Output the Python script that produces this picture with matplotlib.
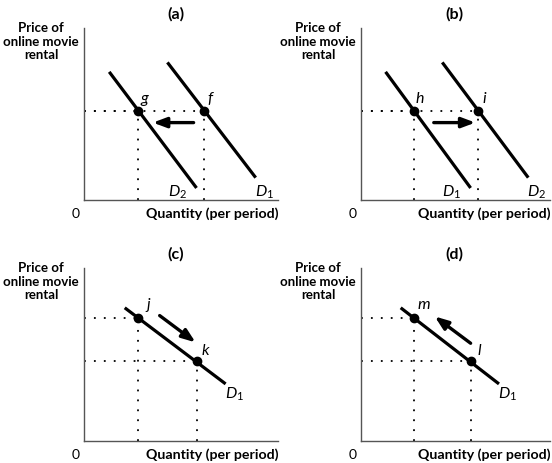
import numpy as np
import matplotlib.pyplot as plt

# ─── Data (axis units 0..10) ────────────────────────────────────────
panel_titles = ['(a)', '(b)', '(c)', '(d)']
y_label = 'Price of\nonline movie\nrental'
x_label = 'Quantity (per period)'

# panels (a)/(b): two parallel demand curves and one price
left_curve_q = [1.3, 5.8]
left_curve_p = [7.45, 0.7]
right_curve_q = [4.3, 8.85]
right_curve_p = [8.0, 1.3]
shift_price = 5.15
shift_qty = [2.8, 6.2]          # point on left curve, point on right curve
curve_names_a = ['$D_2$', '$D_1$']  # left, right
curve_names_b = ['$D_1$', '$D_2$']
point_names_a = ['g', 'f']
point_names_b = ['h', 'i']

# panels (c)/(d): one demand curve, movement along it
move_curve_q = [2.1, 7.3]
move_curve_p = [7.7, 3.3]
move_qty = [2.8, 5.8]
move_price = [7.1, 4.6]
point_names_c = ['j', 'k']
point_names_d = ['m', 'l']
# ────────────────────────────────────────────────────────────────────

plt.rcParams['mathtext.fontset'] = 'custom'
plt.rcParams['mathtext.rm'] = 'Lato'
plt.rcParams['mathtext.it'] = 'Lato:italic'

W, H = 552, 463
fig = plt.figure(figsize=(W / 100, H / 100), dpi=100)
fig.patch.set_facecolor('white')

label_font = ['Lato', 'DejaVu Sans']
dot_style = (0, (1, 4.5))


def make_axes(x0, x1, ytop, ybot):
    ax = fig.add_axes([x0 / W, (H - ybot) / H, (x1 - x0) / W, (ybot - ytop) / H])
    ax.set_xlim(0, 10)
    ax.set_ylim(0, 10)
    for s in ['top', 'right']:
        ax.spines[s].set_visible(False)
    for s in ['left', 'bottom']:
        ax.spines[s].set_color('#555555')
        ax.spines[s].set_linewidth(1.0)
    ax.set_xticks([])
    ax.set_yticks([])
    ax.patch.set_alpha(0)
    return ax


def decorate(ax, title, title_x):
    ax.text(title_x, 1.08, title, transform=ax.transAxes, ha='center', va='center',
            fontsize=11.5, fontweight='bold', family=label_font)
    ax.annotate(y_label, xy=(0, 1), xycoords='axes fraction', xytext=(-31, 4),
                textcoords='offset points', ha='center', va='top',
                fontsize=9.5, fontweight='bold', family=label_font, linespacing=1.12)
    ax.annotate('0', xy=(0, 0), xycoords='axes fraction', xytext=(-6, -10),
                textcoords='offset points', ha='center', va='center',
                fontsize=10, family=label_font)
    ax.annotate(x_label, xy=(1, 0), xycoords='axes fraction', xytext=(0, -10),
                textcoords='offset points', ha='right', va='center',
                fontsize=10.2, fontweight='bold', family=label_font)


def guides(ax, q, p):
    ax.plot([0, q], [p, p], color='black', lw=1.3, ls=dot_style)
    ax.plot([q, q], [0, p], color='black', lw=1.3, ls=dot_style)


def arrow(ax, start, end):
    ax.annotate('', xy=end, xytext=start,
                arrowprops=dict(arrowstyle='-|>,head_length=0.8,head_width=0.3',
                                lw=2.4, color='black', shrinkA=0, shrinkB=0,
                                mutation_scale=10))


def curve_label(ax, q, p, txt):
    ax.text(q, p, txt, ha='center', va='center', fontsize=11.5, clip_on=False)


def point_label(ax, q, p, txt):
    ax.text(q, p, txt, ha='center', va='center', fontsize=11.5, style='italic',
            family=label_font, clip_on=False)


# ─── (a) and (b): shifts of demand ─────────────────────────────────
ax_a = make_axes(84, 278, 28, 200)
ax_b = make_axes(361, 550, 28, 200)
for ax, cnames, pnames, direction, tx in [
        (ax_a, curve_names_a, point_names_a, -1, 0.474),
        (ax_b, curve_names_b, point_names_b, 1, 0.492)]:
    ax.plot(left_curve_q, left_curve_p, color='black', lw=2.3, solid_capstyle='butt')
    ax.plot(right_curve_q, right_curve_p, color='black', lw=2.3, solid_capstyle='butt')
    for q in shift_qty:
        guides(ax, q, shift_price)
    ax.plot(shift_qty, [shift_price] * 2, 'o', color='black', ms=6)
    curve_label(ax, left_curve_q[1] - 1.0, 0.45, cnames[0])
    curve_label(ax, right_curve_q[1] + 0.45, 0.45, cnames[1])
    point_label(ax, shift_qty[0] + 0.3, shift_price + 0.75, pnames[0])
    point_label(ax, shift_qty[1] + 0.3, shift_price + 0.75, pnames[1])
    if direction < 0:
        arrow(ax, (5.65, 4.5), (3.55, 4.5))
    else:
        arrow(ax, (3.85, 4.5), (6.05, 4.5))
    decorate(ax, panel_titles[0] if direction < 0 else panel_titles[1], tx)

# ─── (c) and (d): movements along demand ───────────────────────────
ax_c = make_axes(84, 278, 268, 441)
ax_d = make_axes(361, 550, 268, 441)
for ax, pnames, down, title, tx in [
        (ax_c, point_names_c, True, panel_titles[2], 0.474),
        (ax_d, point_names_d, False, panel_titles[3], 0.492)]:
    ax.plot(move_curve_q, move_curve_p, color='black', lw=2.3, solid_capstyle='butt')
    for q, p in zip(move_qty, move_price):
        guides(ax, q, p)
    ax.plot(move_qty, move_price, 'o', color='black', ms=6)
    curve_label(ax, move_curve_q[1] + 0.45, 2.7, '$D_1$')
    point_label(ax, move_qty[0] + 0.5, move_price[0] + 0.75, pnames[0])
    point_label(ax, move_qty[1] + 0.45, move_price[1] + 0.6, pnames[1])
    if down:
        arrow(ax, (3.9, 7.25), (5.75, 5.7))
    else:
        arrow(ax, (5.8, 5.65), (3.9, 7.2))
    decorate(ax, title, tx)

fig.savefig('out.png', dpi=100, facecolor='white')
